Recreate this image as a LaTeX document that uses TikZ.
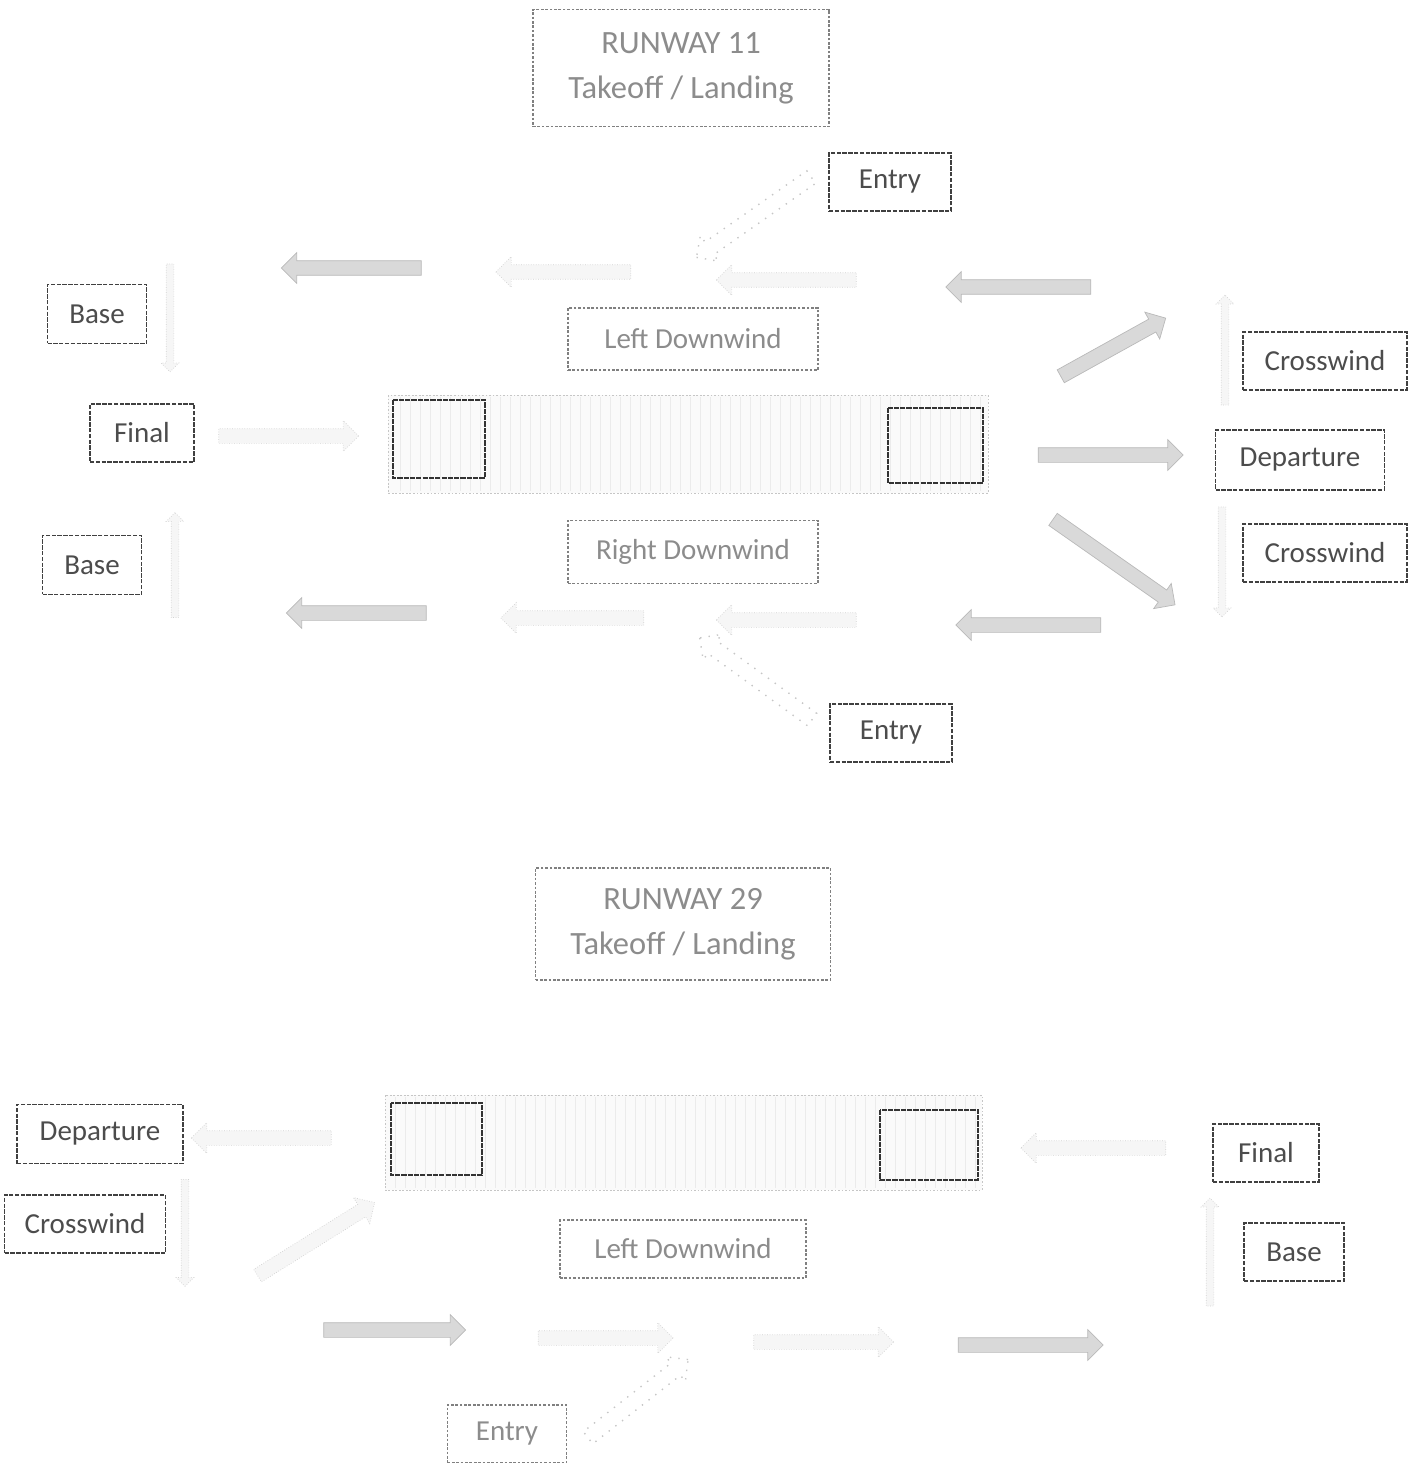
\documentclass[tikz,border=0pt]{standalone}
\usepackage{fontspec}
\setmainfont{Carlito}
\usetikzlibrary{shapes.arrows}

\begin{document}
\begin{tikzpicture}[x=0.02cm,y=-0.02cm]
        \tikzset{box/.style = {draw=black!75,line width=0.7pt,dash pattern=on 2.5pt off 0.8pt,text=black!70,inner sep=0pt,minimum height=1.16cm,font=\fontsize{16.5}{20}\selectfont}}
        \tikzset{pale/.style = {box,draw=black!50,text=black!45,dash pattern=on 1.5pt off 1pt}}
        \tikzset{headbox/.style = {pale,align=center,font=\fontsize{18.5}{25.5}\selectfont}}
        \tikzset{blk/.style = {single arrow,inner xsep=0pt,inner ysep=0.14cm,single arrow head extend=0.16cm,single arrow head indent=0pt}}
        \tikzset{solidarr/.style = {blk,fill=gray!30,draw=gray!55}}
        \tikzset{fadearr/.style = {blk,fill=gray!7,draw=gray!35,densely dotted}}
        \tikzset{thinarr/.style = {fadearr,inner ysep=0.07cm,single arrow head extend=0.1cm}}
        \tikzset{entryarr/.style = {blk,draw=gray!45,loosely dotted,thick}}
        \tikzset{strip/.style = {draw=gray!45,dash pattern=on 1pt off 1pt,fill=gray!4}}
        \tikzset{endbox/.style = {draw=black!80,line width=1.3pt,dash pattern=on 3pt off 0.6pt}}
        \useasboundingbox (0,0) rectangle (1419,1463);
        % runway 11
        \draw[strip] (388,395) rectangle (988,493);
        \foreach \i in {400,410,...,980} \draw[gray!16] (\i,397) -- (\i,491);
        \draw[endbox] (393,400) rectangle (485,478);
        \draw[endbox] (888,408) rectangle (983,483);
        \node[headbox,minimum width=5.92cm,minimum height=2.34cm] (rwyA) at (681,68) {RUNWAY 11\\Takeoff / Landing};
        \node[box,minimum width=2.44cm] (entryA) at (890,182) {Entry};
        \node[box,minimum width=1.98cm,minimum height=1.18cm] (baseA) at (97,314) {Base};
        \node[box,minimum width=2.08cm] (finalA) at (142,433) {Final};
        \node[box,minimum width=1.98cm,minimum height=1.18cm] (baseB) at (92,565) {Base};
        \node[pale,minimum width=5cm,minimum height=1.24cm] (ldwA) at (693,339) {Left Downwind};
        \node[pale,minimum width=5cm,minimum height=1.26cm] (rdwA) at (693,552) {Right Downwind};
        \node[box,minimum width=2.44cm] (entryB) at (891,733) {Entry};
        \node[box,minimum width=3.28cm] (cwA) at (1325,361) {Crosswind};
        \node[box,minimum width=3.38cm,minimum height=1.2cm] (depA) at (1300,460) {Departure};
        \node[box,minimum width=3.28cm] (cwB) at (1325,553) {Crosswind};
        % arrows 11
        \node[solidarr,rotate=180,minimum height=2.8cm] (ldA1) at (355,268) {};
        \node[fadearr,rotate=180,minimum height=2.7cm] (ldA2) at (567,272) {};
        \node[fadearr,rotate=180,minimum height=2.8cm] (ldA3) at (790,280) {};
        \node[solidarr,rotate=180,minimum height=2.9cm] (ldA4) at (1022,287) {};
        \node[entryarr,rotate=215,minimum height=2.8cm] (enA) at (757,215) {};
        \node[solidarr,rotate=180,minimum height=2.8cm] (rdA1) at (360,613) {};
        \node[fadearr,rotate=180,minimum height=2.86cm] (rdA2) at (576,618) {};
        \node[fadearr,rotate=180,minimum height=2.8cm] (rdA3) at (790,620) {};
        \node[solidarr,rotate=180,minimum height=2.9cm] (rdA4) at (1032,625) {};
        \node[entryarr,rotate=144,minimum height=2.78cm] (enB) at (759,681) {};
        \node[fadearr,minimum height=2.8cm] (fnA) at (285,436) {};
        \node[thinarr,rotate=-90,minimum height=2.16cm] (bsA) at (170,316) {};
        \node[thinarr,rotate=90,minimum height=2.1cm] (bsB) at (175,567) {};
        \node[solidarr,minimum height=2.9cm] (dpA) at (1107,455) {};
        \node[solidarr,rotate=29,minimum height=2.4cm] (cwA1) at (1110,349) {};
        \node[solidarr,rotate=-35,minimum height=2.98cm] (cwB1) at (1111,560) {};
        \node[thinarr,rotate=90,minimum height=2.2cm] (cwA2) at (1225,352) {};
        \node[thinarr,rotate=-90,minimum height=2.2cm] (cwB2) at (1222,560) {};
        % runway 29
        \draw[strip] (385,1095) rectangle (982,1190);
        \foreach \i in {395,405,...,975} \draw[gray!16] (\i,1097) -- (\i,1188);
        \draw[endbox] (391,1103) rectangle (482,1175);
        \draw[endbox] (880,1110) rectangle (978,1180);
        \node[headbox,minimum width=5.9cm,minimum height=2.24cm] (rwyB) at (683,924) {RUNWAY 29\\Takeoff / Landing};
        \node[box,minimum width=3.32cm,minimum height=1.18cm] (depB) at (100,1134) {Departure};
        \node[box,minimum width=3.22cm] (cwC) at (85,1224) {Crosswind};
        \node[pale,minimum width=4.92cm] (ldwB) at (683,1249) {Left Downwind};
        \node[pale,minimum width=2.38cm] (entryC) at (507,1434) {Entry};
        \node[box,minimum width=2.12cm] (finalB) at (1266,1153) {Final};
        \node[box,minimum width=2cm] (baseC) at (1294,1252) {Base};
        % arrows 29
        \node[fadearr,rotate=180,minimum height=2.8cm] (dpB) at (265,1138) {};
        \node[thinarr,rotate=-90,minimum height=2.14cm] (cwC1) at (185,1231) {};
        \node[fadearr,rotate=32,minimum height=2.76cm] (cwC2) at (313,1241) {};
        \node[solidarr,minimum height=2.84cm] (ldB1) at (391,1330) {};
        \node[fadearr,minimum height=2.7cm] (ldB2) at (602,1338) {};
        \node[fadearr,minimum height=2.8cm] (ldB3) at (820,1342) {};
        \node[solidarr,minimum height=2.9cm] (ldB4) at (1027,1345) {};
        \node[entryarr,rotate=38,minimum height=2.54cm] (enC) at (635,1401) {};
        \node[fadearr,rotate=180,minimum height=2.9cm] (fnB) at (1097,1148) {};
        \node[thinarr,rotate=90,minimum height=2.16cm] (bsC) at (1210,1254) {};
\end{tikzpicture}
\end{document}
